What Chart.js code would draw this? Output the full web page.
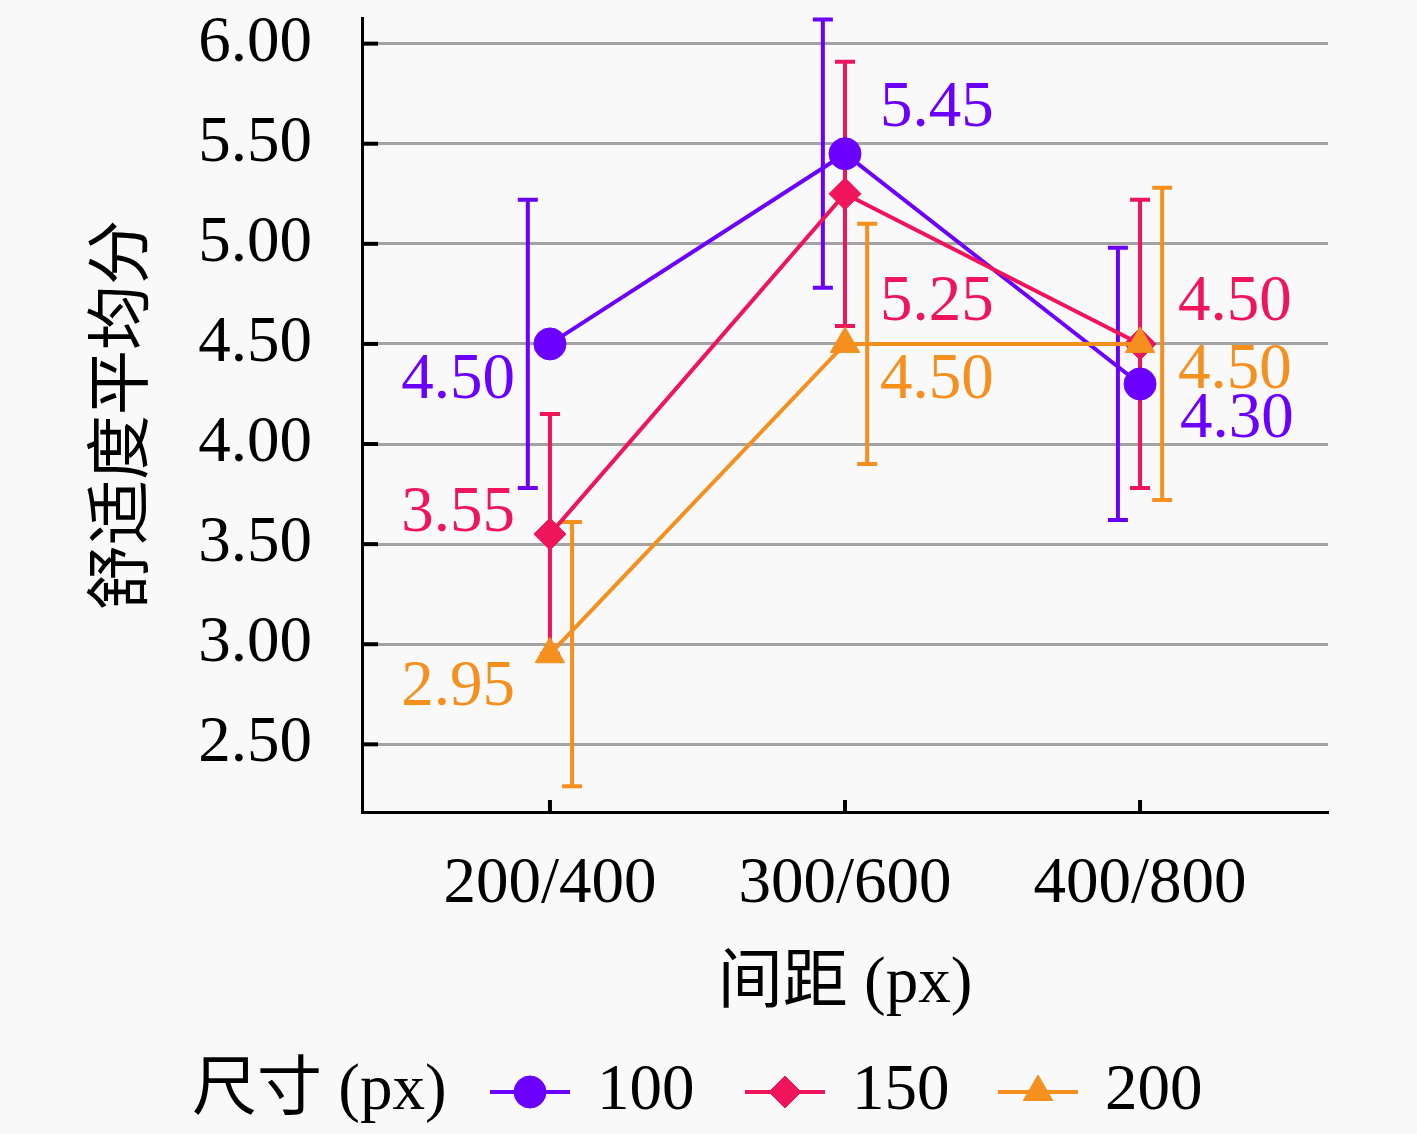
<!DOCTYPE html>
<html>
<head>
<meta charset="utf-8">
<script src="https://cdn.jsdelivr.net/npm/chart.js@4/dist/chart.umd.min.js"></script>
<style>
html, body { margin: 0; padding: 0; background: #f9f9f9; }
canvas { display: block; }
</style>
</head>
<body>
<canvas id="comfort-chart" width="1417" height="1134"></canvas>
<script>
// chart data
var categories = ["200/400", "300/600", "400/800"];
var seriesNames = ["100", "150", "200"];
var means100 = [4.50, 5.45, 4.30];
var means150 = [3.55, 5.25, 4.50];
var means200 = [2.95, 4.50, 4.50];
var err100 = [0.72, 0.67, 0.68];
var err150 = [0.60, 0.66, 0.72];
var err200 = [0.66, 0.60, 0.78];
var yTicks = [2.5, 3.0, 3.5, 4.0, 4.5, 5.0, 5.5, 6.0];

var means = [means100, means150, means200];
var errors = [err100, err150, err200];

// styling
var fontFamily = "'Liberation Serif', 'Noto Sans CJK SC', serif";
var fontSize = 65;
var colors = ["#6c00ff", "#f0145a", "#f5901e"];
var pointStyles = ["circle", "rectRot", "triangle"];
var pointRadii = [16, 16, 17];
var barShift = [-0.075, 0, 0.075];   // error bar offset, in category units
var capHalf = 10;
var legendItemX = [490, 745, 998];

// label offsets from each point (px) and alignment
var labelOffsets = [
	[[-35, 37, "right"], [35, -45, "left"], [40, 36, "left"]],
	[[-35, -20, "right"], [35, 109, "left"], [38, -41, "left"]],
	[[-35, 34, "right"], [35, 37, "left"], [38, 27, "left"]]
];

Chart.defaults.font.family = fontFamily;
Chart.defaults.font.size = fontSize;
Chart.defaults.color = "#000";

var datasets = seriesNames.map(function(name, d) {
	return {
		label: name,
		data: means[d].map(function(v, i) { return {x: i, y: v}; }),
		order: seriesNames.length - d,   // later series drawn on top
		borderColor: colors[d],
		backgroundColor: colors[d],
		pointBackgroundColor: colors[d],
		pointBorderColor: colors[d],
		pointBorderWidth: 1,
		pointStyle: pointStyles[d],
		pointRadius: pointRadii[d],
		borderWidth: 4,
		tension: 0,
		fill: false
	};
});

// inner tick marks and error bars, drawn under the lines
var errorBarPlugin = {
	id: "errorBars",
	beforeDatasetsDraw: function(chart) {
		var ctx = chart.ctx, xs = chart.scales.x, ys = chart.scales.y, area = chart.chartArea;
		ctx.save();
		ctx.strokeStyle = "#000";
		ctx.lineWidth = 4;
		yTicks.forEach(function(v) {
			var py = ys.getPixelForValue(v);
			ctx.beginPath();
			ctx.moveTo(area.left, py);
			ctx.lineTo(area.left + 16, py);
			ctx.stroke();
		});
		categories.forEach(function(c, i) {
			var px = xs.getPixelForValue(i);
			ctx.beginPath();
			ctx.moveTo(px, area.bottom);
			ctx.lineTo(px, area.bottom - 12);
			ctx.stroke();
		});
		chart.data.datasets.forEach(function(ds, d) {
			ctx.strokeStyle = colors[d];
			ctx.lineWidth = 4;
			ds.data.forEach(function(pt, i) {
				var px = xs.getPixelForValue(pt.x + barShift[d]);
				var top = ys.getPixelForValue(pt.y + errors[d][i]);
				var bot = ys.getPixelForValue(pt.y - errors[d][i]);
				ctx.beginPath();
				ctx.moveTo(px, top);
				ctx.lineTo(px, bot);
				ctx.moveTo(px - capHalf, top);
				ctx.lineTo(px + capHalf, top);
				ctx.moveTo(px - capHalf, bot);
				ctx.lineTo(px + capHalf, bot);
				ctx.stroke();
			});
		});
		ctx.restore();
	},
	afterDatasetsDraw: function(chart) {
		var ctx = chart.ctx;
		ctx.save();
		ctx.font = fontSize + "px " + fontFamily;
		ctx.textBaseline = "middle";
		chart.data.datasets.forEach(function(ds, d) {
			var meta = chart.getDatasetMeta(d);
			meta.data.forEach(function(el, i) {
				var off = labelOffsets[d][i];
				ctx.fillStyle = colors[d];
				ctx.textAlign = off[2];
				ctx.fillText(means[d][i].toFixed(2), el.x + off[0], el.y + off[1]);
			});
		});
		ctx.restore();
	}
};

// legend row at the bottom: title then line+marker items
var legendPlugin = {
	id: "inlineLegend",
	afterDraw: function(chart) {
		var ctx = chart.ctx;
		var y = 1092;
		ctx.save();
		ctx.font = fontSize + "px " + fontFamily;
		ctx.textBaseline = "middle";
		ctx.textAlign = "left";
		ctx.fillStyle = "#000";
		ctx.fillText("尺寸 (px)", 192, y);
		chart.data.datasets.forEach(function(ds, d) {
			var x = legendItemX[d];
			ctx.strokeStyle = colors[d];
			ctx.lineWidth = 4;
			ctx.beginPath();
			ctx.moveTo(x, y);
			ctx.lineTo(x + 80, y);
			ctx.stroke();
			ctx.fillStyle = colors[d];
			ctx.strokeStyle = colors[d];
			ctx.lineWidth = 1;
			Chart.helpers.drawPoint(ctx, {pointStyle: pointStyles[d], radius: pointRadii[d], borderWidth: 1}, x + 40, y);
			ctx.fillStyle = "#000";
			ctx.fillText(ds.label, x + 107, y);
		});
		ctx.restore();
	}
};

var ctx = document.getElementById("comfort-chart").getContext("2d");

var comfortChart = new Chart(ctx, {
	type: "line",
	data: { datasets: datasets },
	options: {
		responsive: false,
		animation: false,
		devicePixelRatio: 1,
		layout: { padding: { left: 0, right: 89, top: 14, bottom: 92 } },
		plugins: {
			legend: { display: false },
			tooltip: { enabled: false }
		},
		scales: {
			x: {
				type: "linear",
				min: -0.637,
				max: 2.637,
				afterBuildTicks: function(s) { s.ticks = categories.map(function(c, i) { return {value: i}; }); },
				afterFit: function(s) { s.height = 230; s.paddingLeft = 0; s.paddingRight = 0; },
				grid: { display: false, drawTicks: false },
				border: { display: true, color: "#000", width: 3 },
				ticks: {
					padding: 34,
					color: "#000",
					callback: function(v) { return categories[v]; }
				},
				title: {
					display: true,
					text: "间距 (px)",
					color: "#000",
					padding: { top: 0, bottom: 18 }
				}
			},
			y: {
				type: "linear",
				min: 2.162,
				max: 6.128,
				afterBuildTicks: function(s) { s.ticks = yTicks.map(function(v) { return {value: v}; }); },
				afterFit: function(s) { s.width = 362; s.paddingTop = 0; s.paddingBottom = 0; },
				grid: { color: "#a3a3a3", lineWidth: 3, drawTicks: false },
				border: { display: true, color: "#000", width: 3 },
				ticks: {
					padding: 50,
					color: "#000",
					callback: function(v) { return v.toFixed(2); }
				},
				title: {
					display: true,
					text: "舒适度平均分",
					color: "#000",
					padding: { top: 86, bottom: 0 }
				}
			}
		}
	},
	plugins: [errorBarPlugin, legendPlugin]
});
</script>
</body>
</html>
